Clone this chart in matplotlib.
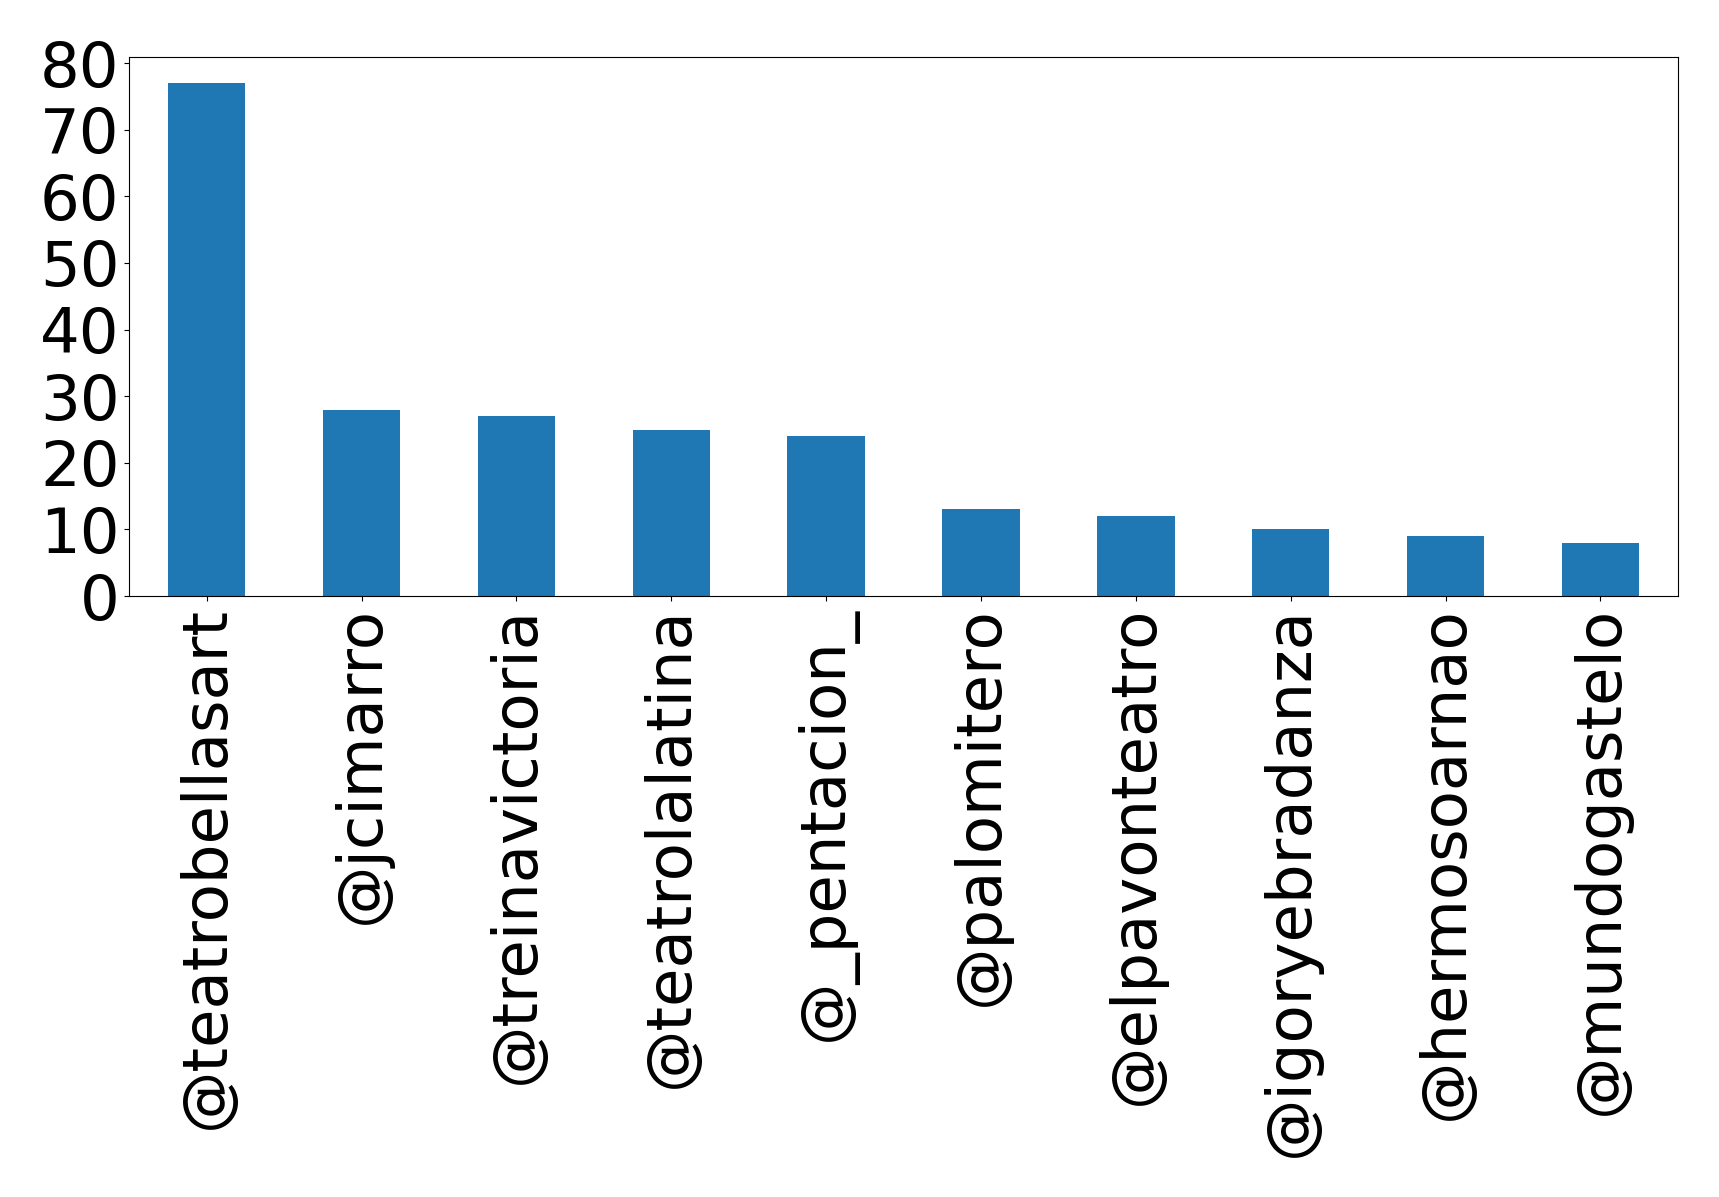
import matplotlib
matplotlib.use("Agg")
import matplotlib.pyplot as plt
import pandas as pd

# accounts and mention counts
accounts = ['@teatrobellasart', '@jcimarro', '@treinavictoria', '@teatrolalatina',
            '@_pentacion_', '@palomitero', '@elpavonteatro', '@igoryebradanza',
            '@hermosoarnao', '@mundogastelo']
counts = [77, 28, 27, 25, 24, 13, 12, 10, 9, 8]

s = pd.Series(counts, index=accounts)

fig = plt.figure(figsize=(17.19, 11.97), dpi=100)
ax = fig.add_axes([0.0752, 0.502, 0.9009, 0.4500])
s.plot(kind='bar', ax=ax, fontsize=45)
ax.tick_params(axis='x', labelrotation=90)

fig.savefig('out.png', dpi=100)
